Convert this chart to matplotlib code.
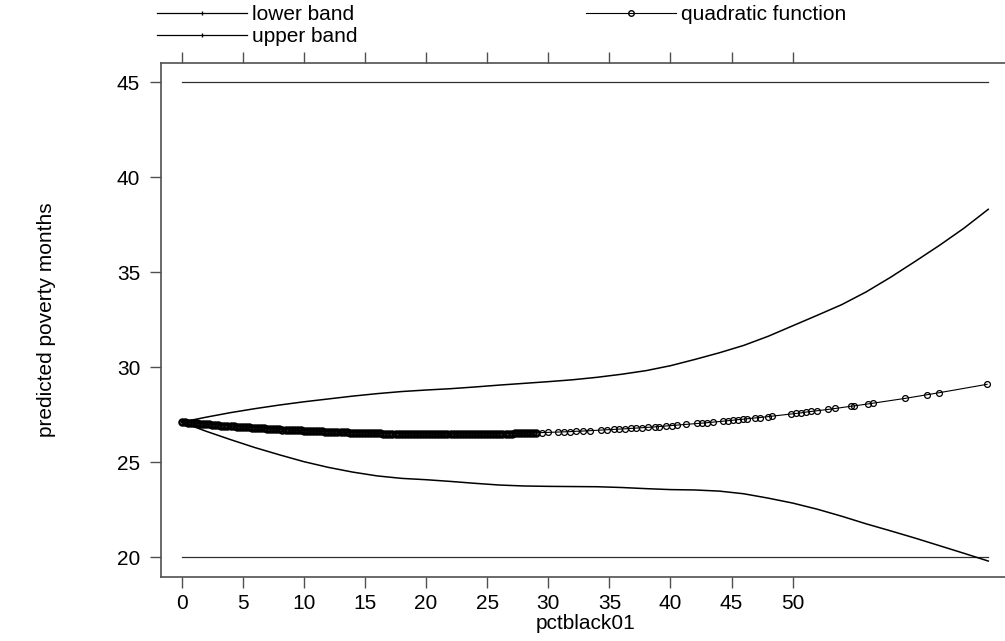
import matplotlib
matplotlib.use('Agg')
import matplotlib.pyplot as plt
from matplotlib.lines import Line2D

plt.rcParams['font.family'] = ['Liberation Sans', 'DejaVu Sans']

# confidence bands
band_x = [0, 2, 4, 6, 8, 10, 12, 14, 16, 18, 20, 22, 24, 26, 28, 30, 32, 34,
          36, 38, 40, 42, 44, 46, 48, 50, 52, 54, 56, 58, 60, 62, 64, 66]
upper_band = [27.10, 27.36, 27.60, 27.81, 28.00, 28.17, 28.32, 28.47, 28.60,
              28.71, 28.79, 28.86, 28.95, 29.05, 29.14, 29.23, 29.33, 29.46,
              29.62, 29.81, 30.07, 30.40, 30.75, 31.14, 31.62, 32.17, 32.72,
              33.28, 33.95, 34.72, 35.55, 36.40, 37.30, 38.30]
lower_band = [27.10, 26.62, 26.18, 25.76, 25.38, 25.02, 24.72, 24.47, 24.27,
              24.14, 24.07, 23.98, 23.88, 23.79, 23.74, 23.72, 23.71, 23.70,
              23.66, 23.60, 23.55, 23.53, 23.47, 23.33, 23.10, 22.84, 22.52,
              22.15, 21.75, 21.38, 21.00, 20.60, 20.20, 19.79]

# observed pctblack01 values (dense part, then the sparse tail)
pct_black = [
    0, 0.25, 0.5, 0.75, 1, 1.25, 1.5, 1.75, 2, 2.25, 2.5, 2.75,
    3, 3.25, 3.5, 3.75, 4, 4.25, 4.5, 4.75, 5, 5.25, 5.5, 5.75,
    6, 6.25, 6.5, 6.75, 7, 7.25, 7.5, 7.75, 8, 8.25, 8.5, 8.75,
    9, 9.25, 9.5, 9.75, 10, 10.25, 10.5, 10.75, 11, 11.25, 11.5, 11.75,
    12, 12.25, 12.5, 12.75, 13, 13.25, 13.5, 13.75, 14, 14.25, 14.5, 14.75,
    15, 15.25, 15.5, 15.75, 16, 16.25, 16.5, 16.75, 17, 17.25, 17.5, 17.75,
    18, 18.25, 18.5, 18.75, 19, 19.25, 19.5, 19.75, 20, 20.25, 20.5, 20.75,
    21, 21.25, 21.5, 21.75, 22, 22.25, 22.5, 22.75, 23, 23.25, 23.5, 23.75,
    24, 24.25, 24.5, 24.75, 25, 25.25, 25.5, 25.75, 26, 26.25, 26.5, 26.75,
    27, 27.25, 27.5, 27.75, 28, 28.25, 28.5, 28.75, 29,
    29.5, 30.0, 30.8, 31.3, 31.8, 32.3, 32.8, 33.4, 34.3, 34.8, 35.4, 35.8,
    36.3, 36.8, 37.2, 37.7, 38.2, 38.7, 39.1, 39.6, 40.1, 40.5, 41.3, 42.2,
    42.6, 43.0, 43.5, 44.3, 44.7, 45.1, 45.5, 45.9, 46.3, 46.9, 47.3, 48.0,
    48.3, 49.9, 50.3, 50.7, 51.1, 51.5, 52.0, 52.9, 53.5, 54.8, 55.0, 56.2,
    56.6, 59.2, 61.0, 62.0, 65.9]
# fitted quadratic at those values
quad_fit = [
    27.10, 27.09, 27.07, 27.06, 27.04, 27.03, 27.02, 27.00, 26.99, 26.98, 26.96, 26.95,
    26.94, 26.92, 26.91, 26.90, 26.89, 26.88, 26.86, 26.85, 26.84, 26.83, 26.82, 26.81,
    26.80, 26.79, 26.78, 26.77, 26.76, 26.75, 26.74, 26.73, 26.72, 26.71, 26.70, 26.69,
    26.68, 26.67, 26.67, 26.66, 26.65, 26.64, 26.63, 26.63, 26.62, 26.61, 26.61, 26.60,
    26.59, 26.59, 26.58, 26.57, 26.57, 26.56, 26.56, 26.55, 26.55, 26.54, 26.54, 26.53,
    26.53, 26.52, 26.52, 26.51, 26.51, 26.51, 26.50, 26.50, 26.50, 26.49, 26.49, 26.49,
    26.48, 26.48, 26.48, 26.48, 26.48, 26.47, 26.47, 26.47, 26.47, 26.47, 26.47, 26.47,
    26.47, 26.47, 26.47, 26.47, 26.47, 26.47, 26.47, 26.47, 26.47, 26.47, 26.47, 26.47,
    26.47, 26.47, 26.48, 26.48, 26.48, 26.48, 26.48, 26.49, 26.49, 26.49, 26.50, 26.50,
    26.50, 26.51, 26.51, 26.51, 26.52, 26.52, 26.53, 26.53, 26.54,
    26.55, 26.56, 26.58, 26.59, 26.60, 26.62, 26.63, 26.65, 26.68, 26.70, 26.72, 26.73,
    26.75, 26.77, 26.79, 26.81, 26.83, 26.85, 26.87, 26.90, 26.92, 26.94, 26.98, 27.03,
    27.05, 27.07, 27.10, 27.15, 27.17, 27.20, 27.23, 27.25, 27.28, 27.32, 27.34, 27.39,
    27.41, 27.53, 27.56, 27.59, 27.63, 27.66, 27.70, 27.77, 27.82, 27.94, 27.95, 28.06,
    28.10, 28.35, 28.54, 28.65, 29.09]
n_dense = 117  # overlapping observations up to about 29

# reference lines
ref_x = [0, 66]
ref_top = [45, 45]
ref_bottom = [20, 20]

x_ticks = [0, 5, 10, 15, 20, 25, 30, 35, 40, 45, 50]
y_ticks = [20, 25, 30, 35, 40, 45]

fig = plt.figure(figsize=(10.05, 6.41), dpi=100)
ax = fig.add_axes([161 / 1005, 64 / 641, 849 / 1005, 514 / 641])

ax.plot(ref_x, ref_top, color='#303030', lw=0.9)
ax.plot(ref_x, ref_bottom, color='#303030', lw=0.9)
ax.plot(band_x, upper_band, color='black', lw=1.1)
ax.plot(band_x, lower_band, color='black', lw=1.1)
ax.plot(pct_black, quad_fit, color='black', lw=0.8)
# heavily overlapping markers merge into a solid band
ax.plot(pct_black[:n_dense], quad_fit[:n_dense], ls='none', marker='o',
        ms=4.4, mfc='none', mec='black', mew=1.7)
ax.plot(pct_black[n_dense:], quad_fit[n_dense:], ls='none', marker='o',
        ms=4.2, mfc='none', mec='black', mew=0.9)

ax.set_xlim(-1.69, 67.78)
ax.set_ylim(18.95, 46.0)
ax.set_xticks(x_ticks)
ax.set_yticks(y_ticks)

grey = '#505050'
for side in ['left', 'top', 'bottom']:
    ax.spines[side].set_color(grey)
    ax.spines[side].set_linewidth(1.2)
ax.spines['right'].set_visible(False)
ax.tick_params(axis='x', top=True, labeltop=False, direction='out',
               length=8, width=1, color=grey, labelsize=15, pad=4)
ax.tick_params(axis='y', right=False, direction='out', length=8, width=1,
               color=grey, labelsize=15, pad=7)

ax.set_xlabel('pctblack01', fontsize=15, labelpad=1)
ax.set_ylabel('predicted poverty months', fontsize=15, labelpad=44)

handles = [
    Line2D([], [], color='black', lw=0.9, marker='|', ms=3),
    Line2D([], [], color='black', lw=0.9, marker='|', ms=3),
    Line2D([], [], color='black', lw=0.8, marker='o', ms=4, mfc='none'),
]
labels = ['lower band', 'upper band', 'quadratic function']
fig.legend(handles, labels, loc='upper left', ncol=2, frameon=False,
           bbox_to_anchor=(157 / 1005, 1 - 5 / 641), fontsize=15,
           numpoints=1, handlelength=4.3, handletextpad=0.25,
           columnspacing=11.0, labelspacing=0.15, borderpad=0,
           borderaxespad=0)

fig.savefig('out.png', dpi=100, facecolor='white')
